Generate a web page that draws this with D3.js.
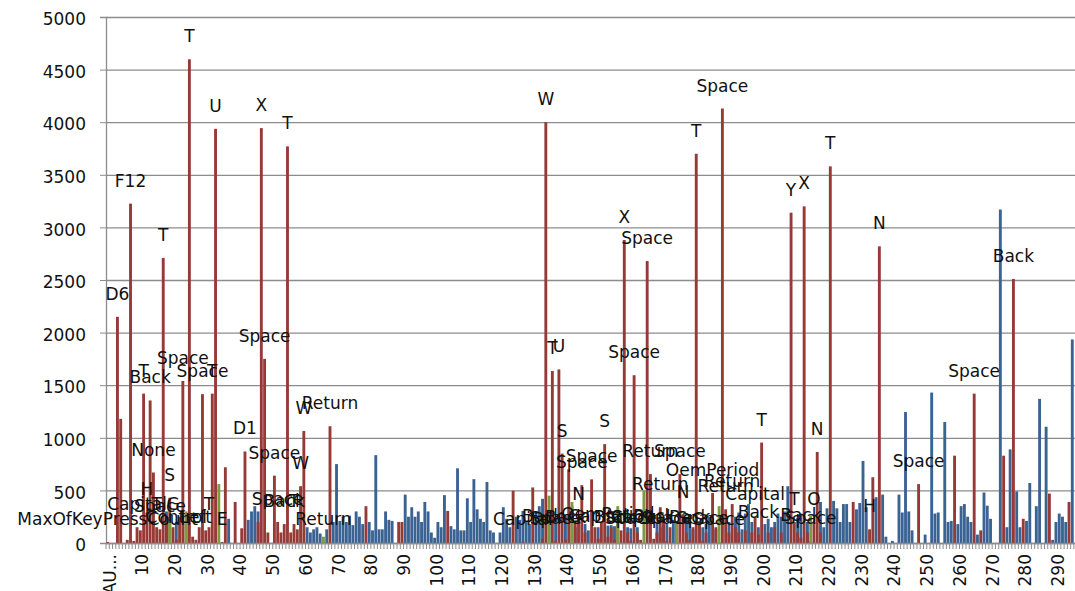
<!DOCTYPE html>
<html><head><meta charset="utf-8">
<script src="https://cdn.jsdelivr.net/npm/d3@7/dist/d3.min.js"></script>
<style>body{margin:0;background:#fff}svg{display:block}</style>
</head><body>
<svg id="chart" width="1075" height="591"></svg>
<script>
// ---- DATA ----
const categories = d3.range(297).map(i => i === 0 ? "AU..." : String(i));
const xTickLabels = ["AU...","10","20","30","40","50","60","70","80","90","100","110","120","130","140","150","160","170","180","190","200","210","220","230","240","250","260","270","280","290"];
const yTicks = [0,500,1000,1500,2000,2500,3000,3500,4000,4500,5000];

const blueValues = [
0,0,0,0,0,0,0,0,0,0,
0,0,0,0,0,0,0,0,300,0,
0,200,0,0,0,0,0,0,0,0,
0,0,0,0,0,0,0,230,0,0,
0,0,0,220,300,350,300,0,0,0,
0,0,0,0,0,0,0,0,0,0,
0,150,100,130,150,90,0,130,0,200,
750,210,250,200,260,170,300,250,180,0,
200,120,835,130,130,300,220,210,0,0,
0,460,250,340,250,300,200,390,300,100,
50,200,150,455,0,160,130,710,120,120,
425,200,607,320,230,200,580,120,100,0,
100,340,230,150,0,250,220,305,200,180,
0,300,350,420,0,250,0,230,0,0,
260,0,0,150,0,0,180,120,0,0,
150,0,0,165,170,160,0,0,0,150,
140,0,150,0,0,0,0,0,200,150,
250,180,0,220,0,0,0,250,200,130,
0,200,150,180,250,0,130,0,0,0,
200,0,250,290,130,280,370,200,0,150,
0,180,230,150,200,280,250,300,540,0,
0,240,280,0,200,0,0,0,390,150,
330,0,400,330,200,370,370,200,0,320,
380,780,340,0,0,435,0,460,60,0,
20,0,460,290,1245,300,120,0,0,0,
80,0,1430,280,290,0,1150,200,210,0,
180,350,370,250,200,0,80,0,480,355,
230,0,0,3170,0,150,890,0,490,150,
0,210,570,0,350,1370,0,1105,0,30,
200,280,250,200,0,1935,0];

const redValues = [
10,0,0,2150,1180,0,30,3226,20,150,
120,1420,290,1355,670,150,130,2710,200,430,
150,30,250,1540,200,4598,60,30,150,1415,
120,150,1420,3937,0,10,720,0,0,390,
0,140,870,0,0,0,200,3944,1750,100,
0,640,200,100,180,3770,100,180,130,540,
1065,0,0,0,0,0,10,0,1110,0,
0,0,0,0,0,0,0,0,0,350,
0,0,0,0,0,0,0,0,0,200,
200,0,0,0,0,0,0,0,0,0,
0,0,0,0,305,0,0,0,0,0,
0,0,0,0,0,0,0,0,0,0,
0,0,0,0,497,0,0,10,0,0,
528,0,0,40,4000,0,1635,20,1650,850,
30,700,350,200,250,550,100,0,605,150,
40,200,940,60,150,30,200,120,2880,100,
20,1595,100,30,0,2680,655,40,100,340,
200,20,150,0,200,655,270,100,30,150,
3700,200,20,100,0,475,150,10,4130,320,
100,370,150,100,0,120,0,100,250,80,
955,0,100,0,150,0,100,0,0,3140,
200,100,50,3200,100,20,200,865,100,0,
0,3580,0,0,0,0,0,0,390,0,
0,0,0,130,625,0,2820,0,0,0,
0,0,0,0,0,0,0,0,560,0,
0,0,0,0,0,0,0,0,0,830,
0,0,0,0,0,1420,0,120,0,0,
0,0,0,0,830,0,0,2510,0,0,
230,0,0,0,0,0,0,0,470,0,
0,0,0,0,390,0,0];

const greenIndex  = [19, 24, 34, 66, 135, 142, 156, 164, 174, 187, 215];
const greenValues = [200, 300, 560, 60, 450, 390, 350, 500, 200, 350, 260];

const labelIndex = [0,3,7,9,11,12,13,14,15,16,17,19,20,21,23,25,27,29,31,32,33,35,42,47,48,51,52,54,55,57,59,60,66,68,
127,133,134,136,137,138,139,140,144,145,148,150,152,153,155,158,160,161,163,165,166,167,169,171,175,176,178,180,182,185,187,188,189,191,198,199,200,209,210,212,213,215,216,217,221,233,236,248,265,277];
const labelText = ["MaxOfKeyPressCount","D6","F12","Capital","T","H","Back","None","T","Space","T","S","G","Control","Space","T","Left","Space","T","T","U","E","D1","X","Space","Space","Space","Back","T","T","W","W","Return","Return",
"Capital","Back","W","T","Space","U","S","Back","N","Space","Space","Capital","S","OemPeriod","Back","X","Space","Space","Capital","Space","Return","Back","Return","Space","Space","N","Back","T","Space","OemPeriod","Space","Space","Return","Return","Capital","Back","T","Y","T","Back","X","Space","O","N","T","H","N","Space","Space","Back"];

// ---- CHART ----
const svg = d3.select("#chart");
const mLeft = 106, mTop = 17, mBottom = 543, step = 3.27;
const N = categories.length;
const x = d3.scaleBand().domain(d3.range(N)).range([mLeft, mLeft + N * step]).paddingInner(0).paddingOuter(0);
const y = d3.scaleLinear().domain([0, 5000]).range([mBottom, mTop]);
const bw = x.bandwidth() * 0.88;
const off = (x.bandwidth() - bw) / 2;
const gridColor = "#8c8c8c";
const font = "'DejaVu Sans', Verdana, sans-serif";

// gridlines
svg.append("g").attr("transform", `translate(${mLeft},0)`)
  .call(d3.axisLeft(y).tickValues(yTicks).tickSize(-(1075 - mLeft)).tickFormat(""))
  .call(g => g.select(".domain").remove())
  .call(g => g.selectAll("line").attr("stroke", gridColor).attr("stroke-width", 1.3));

// y axis
svg.append("g").attr("transform", `translate(${mLeft},0)`)
  .call(d3.axisLeft(y).tickValues(yTicks).tickSize(6).tickPadding(14).tickFormat(d3.format("d")))
  .call(g => g.select(".domain").attr("stroke", gridColor).attr("stroke-width", 1.3))
  .call(g => g.selectAll("line").attr("stroke", gridColor))
  .call(g => g.selectAll("text").attr("font-family", font).attr("font-size", 17).attr("fill", "#111").attr("dy", "0.45em"));

// bars
const blue = "#3a6394", red = "#963a37", green = "#7d9a3e";
svg.append("g").selectAll("rect").data(blueValues.map((v, i) => ({i, v})).filter(d => d.v > 0))
  .join("rect").attr("x", d => x(d.i) + off).attr("width", bw)
  .attr("y", d => y(d.v)).attr("height", d => y(0) - y(d.v)).attr("fill", blue);
svg.append("g").selectAll("rect").data(redValues.map((v, i) => ({i, v})).filter(d => d.v > 0))
  .join("rect").attr("x", d => x(d.i) + off).attr("width", bw)
  .attr("y", d => y(d.v)).attr("height", d => y(0) - y(d.v)).attr("fill", red);
svg.append("g").selectAll("rect").data(greenIndex.map((i, k) => ({i, v: greenValues[k]})))
  .join("rect").attr("x", d => x(d.i) + off).attr("width", bw)
  .attr("y", d => y(d.v)).attr("height", d => y(0) - y(d.v)).attr("fill", green);

// x axis
const xAxis = svg.append("g").attr("transform", `translate(0,${mBottom})`)
  .call(d3.axisBottom(x).tickValues(d3.range(0, N, 10)).tickSize(0)
    .tickFormat(d => xTickLabels[d / 10]));
xAxis.select(".domain").attr("stroke", gridColor).attr("stroke-width", 1.3);
xAxis.selectAll("text").attr("font-family", font).attr("font-size", 17).attr("fill", "#111")
  .attr("text-anchor", "end").attr("dominant-baseline", "central")
  .attr("transform", "translate(2,11) rotate(-90)").attr("x", 0).attr("y", 0).attr("dy", 0);
// minor category ticks
svg.append("g").selectAll("line").data(d3.range(N + 1))
  .join("line").attr("x1", d => mLeft + d * step).attr("x2", d => mLeft + d * step)
  .attr("y1", mBottom).attr("y2", mBottom + 6).attr("stroke", gridColor).attr("stroke-width", 1);

// data labels (red series)
svg.append("g").selectAll("text").data(labelIndex.map((i, k) => ({i, t: labelText[k]})))
  .join("text")
  .attr("x", d => x(d.i) + x.bandwidth() / 2)
  .attr("y", d => y(redValues[d.i]) - 17)
  .attr("text-anchor", "middle")
  .attr("font-family", font).attr("font-size", 17).attr("fill", "#111")
  .text(d => d.t);
</script>
</body></html>
